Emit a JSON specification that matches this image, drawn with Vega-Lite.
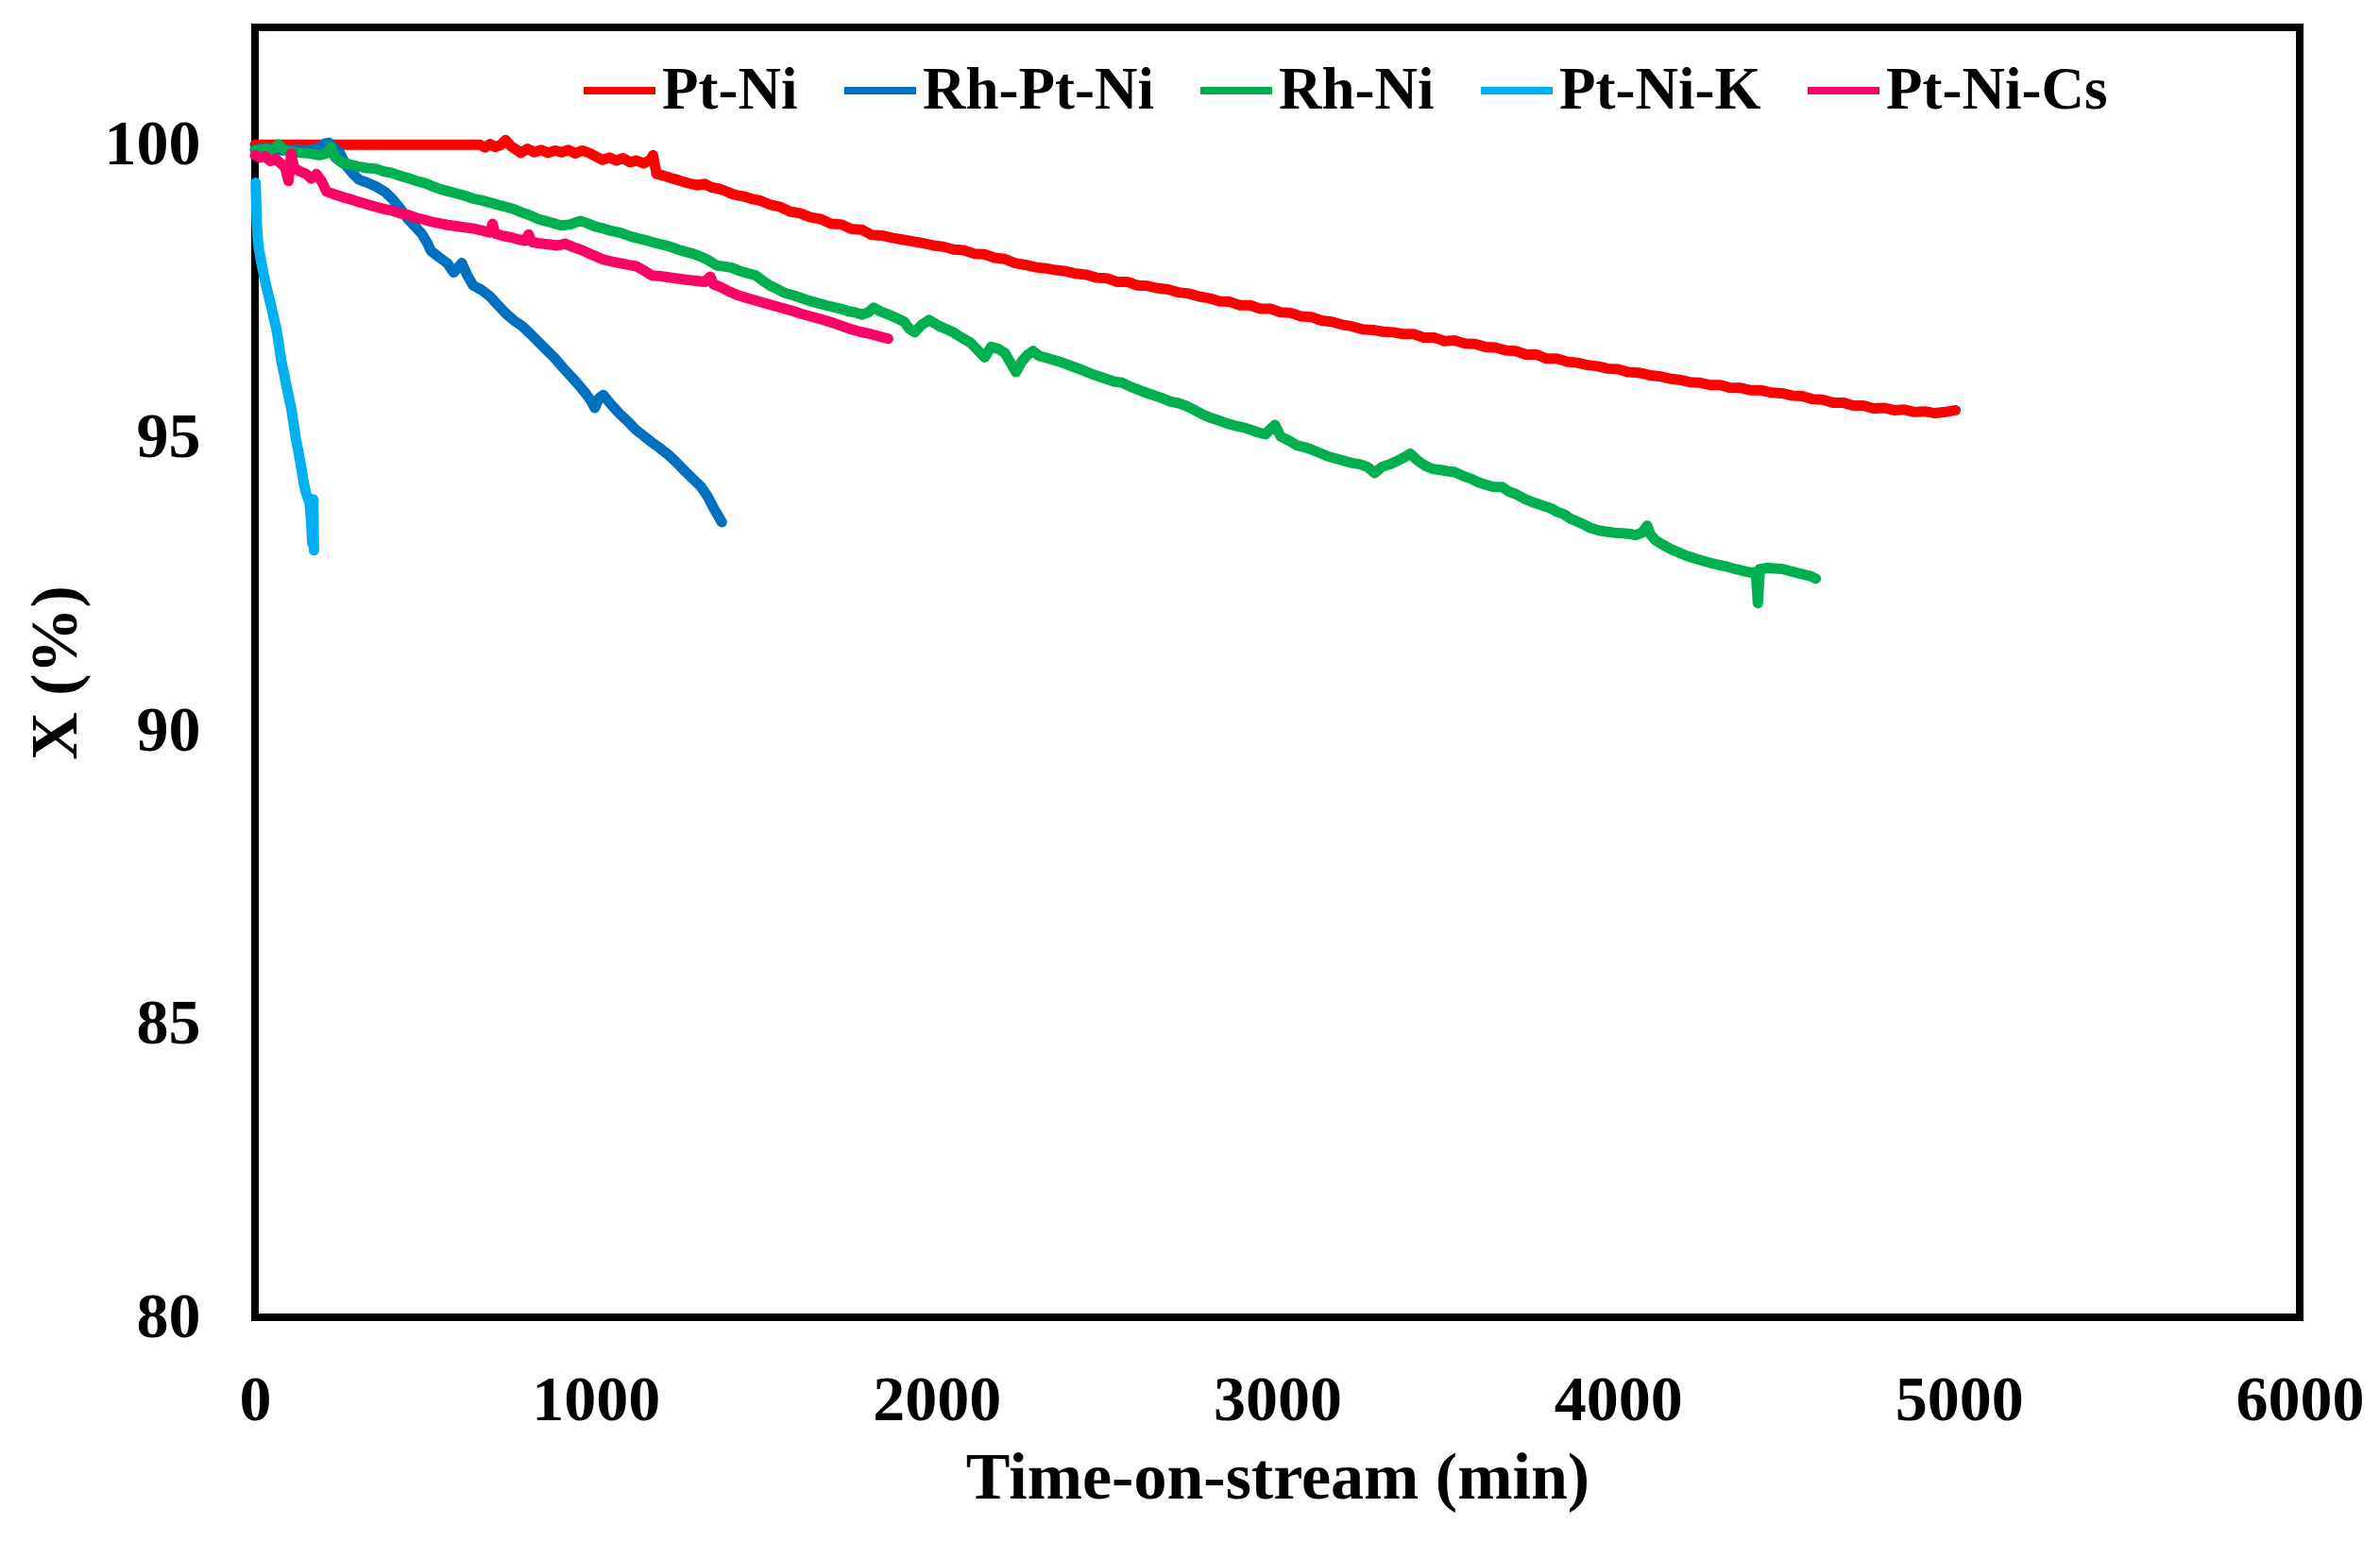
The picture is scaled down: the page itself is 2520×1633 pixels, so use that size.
{
  "$schema": "https://vega.github.io/schema/vega-lite/v6.json",
  "autosize": {"type": "none"},
  "padding": {"left": 270, "top": 29, "right": 85, "bottom": 238},
  "width": 2165,
  "height": 1366,
  "background": "white",
  "view": {"stroke": "black", "strokeWidth": 8},
  "config": {
    "font": "Liberation Serif",
    "axis": {
      "grid": false,
      "ticks": false,
      "domain": false,
      "labelFont": "Liberation Serif",
      "labelFontWeight": "bold",
      "labelFontSize": 68,
      "labelColor": "black",
      "titleFont": "Liberation Serif",
      "titleFontWeight": "bold",
      "titleFontSize": 70,
      "titleColor": "black"
    }
  },
  "datasets": {
    "conv": [
      {"cat": "Pt-Ni", "time": 0, "x": 100}, {"cat": "Pt-Ni", "time": 100, "x": 100}, {"cat": "Pt-Ni", "time": 200, "x": 100}, {"cat": "Pt-Ni", "time": 300, "x": 100}, {"cat": "Pt-Ni", "time": 400, "x": 100}, {"cat": "Pt-Ni", "time": 500, "x": 100}, {"cat": "Pt-Ni", "time": 600, "x": 100}, {"cat": "Pt-Ni", "time": 660, "x": 100},
      {"cat": "Pt-Ni", "time": 675, "x": 99.95}, {"cat": "Pt-Ni", "time": 690, "x": 100.01}, {"cat": "Pt-Ni", "time": 705, "x": 99.96}, {"cat": "Pt-Ni", "time": 720, "x": 99.99}, {"cat": "Pt-Ni", "time": 735, "x": 100.08}, {"cat": "Pt-Ni", "time": 750, "x": 99.98}, {"cat": "Pt-Ni", "time": 765, "x": 99.92}, {"cat": "Pt-Ni", "time": 780, "x": 99.86}, {"cat": "Pt-Ni", "time": 800, "x": 99.93}, {"cat": "Pt-Ni", "time": 820, "x": 99.87}, {"cat": "Pt-Ni", "time": 840, "x": 99.91}, {"cat": "Pt-Ni", "time": 860, "x": 99.86}, {"cat": "Pt-Ni", "time": 880, "x": 99.9}, {"cat": "Pt-Ni", "time": 900, "x": 99.87}, {"cat": "Pt-Ni", "time": 920, "x": 99.91}, {"cat": "Pt-Ni", "time": 940, "x": 99.85}, {"cat": "Pt-Ni", "time": 960, "x": 99.9}, {"cat": "Pt-Ni", "time": 980, "x": 99.86},
      {"cat": "Pt-Ni", "time": 1000, "x": 99.8}, {"cat": "Pt-Ni", "time": 1020, "x": 99.74}, {"cat": "Pt-Ni", "time": 1040, "x": 99.78}, {"cat": "Pt-Ni", "time": 1060, "x": 99.73}, {"cat": "Pt-Ni", "time": 1080, "x": 99.77}, {"cat": "Pt-Ni", "time": 1100, "x": 99.7}, {"cat": "Pt-Ni", "time": 1120, "x": 99.73}, {"cat": "Pt-Ni", "time": 1140, "x": 99.68}, {"cat": "Pt-Ni", "time": 1160, "x": 99.74}, {"cat": "Pt-Ni", "time": 1168, "x": 99.82}, {"cat": "Pt-Ni", "time": 1178, "x": 99.5}, {"cat": "Pt-Ni", "time": 1200, "x": 99.47}, {"cat": "Pt-Ni", "time": 1220, "x": 99.43}, {"cat": "Pt-Ni", "time": 1240, "x": 99.4}, {"cat": "Pt-Ni", "time": 1260, "x": 99.36}, {"cat": "Pt-Ni", "time": 1280, "x": 99.33}, {"cat": "Pt-Ni", "time": 1300, "x": 99.31}, {"cat": "Pt-Ni", "time": 1320, "x": 99.33}, {"cat": "Pt-Ni", "time": 1340, "x": 99.27}, {"cat": "Pt-Ni", "time": 1360, "x": 99.25}, {"cat": "Pt-Ni", "time": 1380, "x": 99.21}, {"cat": "Pt-Ni", "time": 1400, "x": 99.16}, {"cat": "Pt-Ni", "time": 1420, "x": 99.13}, {"cat": "Pt-Ni", "time": 1440, "x": 99.11}, {"cat": "Pt-Ni", "time": 1460, "x": 99.07}, {"cat": "Pt-Ni", "time": 1480, "x": 99.05},
      {"cat": "Pt-Ni", "time": 1510, "x": 98.98}, {"cat": "Pt-Ni", "time": 1540, "x": 98.94}, {"cat": "Pt-Ni", "time": 1570, "x": 98.86}, {"cat": "Pt-Ni", "time": 1600, "x": 98.83}, {"cat": "Pt-Ni", "time": 1630, "x": 98.76}, {"cat": "Pt-Ni", "time": 1660, "x": 98.73}, {"cat": "Pt-Ni", "time": 1690, "x": 98.65}, {"cat": "Pt-Ni", "time": 1720, "x": 98.64}, {"cat": "Pt-Ni", "time": 1750, "x": 98.56}, {"cat": "Pt-Ni", "time": 1780, "x": 98.55}, {"cat": "Pt-Ni", "time": 1810, "x": 98.46}, {"cat": "Pt-Ni", "time": 1840, "x": 98.45}, {"cat": "Pt-Ni", "time": 1870, "x": 98.41}, {"cat": "Pt-Ni", "time": 1900, "x": 98.38}, {"cat": "Pt-Ni", "time": 1930, "x": 98.35}, {"cat": "Pt-Ni", "time": 1960, "x": 98.32}, {"cat": "Pt-Ni", "time": 1990, "x": 98.28},
      {"cat": "Pt-Ni", "time": 2020, "x": 98.26}, {"cat": "Pt-Ni", "time": 2050, "x": 98.21}, {"cat": "Pt-Ni", "time": 2080, "x": 98.2}, {"cat": "Pt-Ni", "time": 2110, "x": 98.14}, {"cat": "Pt-Ni", "time": 2140, "x": 98.13}, {"cat": "Pt-Ni", "time": 2170, "x": 98.07}, {"cat": "Pt-Ni", "time": 2200, "x": 98.05}, {"cat": "Pt-Ni", "time": 2230, "x": 97.98}, {"cat": "Pt-Ni", "time": 2260, "x": 97.95}, {"cat": "Pt-Ni", "time": 2290, "x": 97.91}, {"cat": "Pt-Ni", "time": 2320, "x": 97.89}, {"cat": "Pt-Ni", "time": 2350, "x": 97.86}, {"cat": "Pt-Ni", "time": 2380, "x": 97.84}, {"cat": "Pt-Ni", "time": 2410, "x": 97.8}, {"cat": "Pt-Ni", "time": 2440, "x": 97.78}, {"cat": "Pt-Ni", "time": 2470, "x": 97.73}, {"cat": "Pt-Ni", "time": 2500, "x": 97.72}, {"cat": "Pt-Ni", "time": 2530, "x": 97.66}, {"cat": "Pt-Ni", "time": 2560, "x": 97.66}, {"cat": "Pt-Ni", "time": 2590, "x": 97.6}, {"cat": "Pt-Ni", "time": 2620, "x": 97.59}, {"cat": "Pt-Ni", "time": 2650, "x": 97.55}, {"cat": "Pt-Ni", "time": 2680, "x": 97.53}, {"cat": "Pt-Ni", "time": 2710, "x": 97.48}, {"cat": "Pt-Ni", "time": 2740, "x": 97.46}, {"cat": "Pt-Ni", "time": 2770, "x": 97.41}, {"cat": "Pt-Ni", "time": 2800, "x": 97.38}, {"cat": "Pt-Ni", "time": 2830, "x": 97.33}, {"cat": "Pt-Ni", "time": 2860, "x": 97.32}, {"cat": "Pt-Ni", "time": 2890, "x": 97.26}, {"cat": "Pt-Ni", "time": 2920, "x": 97.26}, {"cat": "Pt-Ni", "time": 2950, "x": 97.2}, {"cat": "Pt-Ni", "time": 2980, "x": 97.2},
      {"cat": "Pt-Ni", "time": 3010, "x": 97.14}, {"cat": "Pt-Ni", "time": 3040, "x": 97.13}, {"cat": "Pt-Ni", "time": 3070, "x": 97.07}, {"cat": "Pt-Ni", "time": 3100, "x": 97.06}, {"cat": "Pt-Ni", "time": 3130, "x": 97.0}, {"cat": "Pt-Ni", "time": 3160, "x": 96.98}, {"cat": "Pt-Ni", "time": 3190, "x": 96.93}, {"cat": "Pt-Ni", "time": 3220, "x": 96.9}, {"cat": "Pt-Ni", "time": 3250, "x": 96.85}, {"cat": "Pt-Ni", "time": 3280, "x": 96.84}, {"cat": "Pt-Ni", "time": 3310, "x": 96.81}, {"cat": "Pt-Ni", "time": 3340, "x": 96.8}, {"cat": "Pt-Ni", "time": 3370, "x": 96.77}, {"cat": "Pt-Ni", "time": 3400, "x": 96.77}, {"cat": "Pt-Ni", "time": 3430, "x": 96.71}, {"cat": "Pt-Ni", "time": 3460, "x": 96.71}, {"cat": "Pt-Ni", "time": 3490, "x": 96.65}, {"cat": "Pt-Ni", "time": 3520, "x": 96.66}, {"cat": "Pt-Ni", "time": 3550, "x": 96.61}, {"cat": "Pt-Ni", "time": 3580, "x": 96.6}, {"cat": "Pt-Ni", "time": 3610, "x": 96.55}, {"cat": "Pt-Ni", "time": 3640, "x": 96.54}, {"cat": "Pt-Ni", "time": 3670, "x": 96.49}, {"cat": "Pt-Ni", "time": 3700, "x": 96.48}, {"cat": "Pt-Ni", "time": 3730, "x": 96.42}, {"cat": "Pt-Ni", "time": 3760, "x": 96.42}, {"cat": "Pt-Ni", "time": 3790, "x": 96.35}, {"cat": "Pt-Ni", "time": 3820, "x": 96.35}, {"cat": "Pt-Ni", "time": 3850, "x": 96.3}, {"cat": "Pt-Ni", "time": 3880, "x": 96.28}, {"cat": "Pt-Ni", "time": 3910, "x": 96.24}, {"cat": "Pt-Ni", "time": 3940, "x": 96.22}, {"cat": "Pt-Ni", "time": 3970, "x": 96.18},
      {"cat": "Pt-Ni", "time": 4000, "x": 96.17}, {"cat": "Pt-Ni", "time": 4030, "x": 96.12}, {"cat": "Pt-Ni", "time": 4060, "x": 96.11}, {"cat": "Pt-Ni", "time": 4090, "x": 96.07}, {"cat": "Pt-Ni", "time": 4120, "x": 96.05}, {"cat": "Pt-Ni", "time": 4150, "x": 96.01}, {"cat": "Pt-Ni", "time": 4180, "x": 95.99}, {"cat": "Pt-Ni", "time": 4210, "x": 95.95}, {"cat": "Pt-Ni", "time": 4240, "x": 95.94}, {"cat": "Pt-Ni", "time": 4270, "x": 95.9}, {"cat": "Pt-Ni", "time": 4300, "x": 95.9}, {"cat": "Pt-Ni", "time": 4330, "x": 95.85}, {"cat": "Pt-Ni", "time": 4360, "x": 95.85}, {"cat": "Pt-Ni", "time": 4390, "x": 95.81}, {"cat": "Pt-Ni", "time": 4420, "x": 95.81}, {"cat": "Pt-Ni", "time": 4450, "x": 95.77}, {"cat": "Pt-Ni", "time": 4480, "x": 95.76}, {"cat": "Pt-Ni", "time": 4510, "x": 95.72}, {"cat": "Pt-Ni", "time": 4540, "x": 95.71}, {"cat": "Pt-Ni", "time": 4570, "x": 95.66}, {"cat": "Pt-Ni", "time": 4600, "x": 95.65}, {"cat": "Pt-Ni", "time": 4630, "x": 95.6}, {"cat": "Pt-Ni", "time": 4660, "x": 95.6}, {"cat": "Pt-Ni", "time": 4690, "x": 95.55}, {"cat": "Pt-Ni", "time": 4720, "x": 95.55}, {"cat": "Pt-Ni", "time": 4750, "x": 95.5}, {"cat": "Pt-Ni", "time": 4780, "x": 95.51}, {"cat": "Pt-Ni", "time": 4810, "x": 95.47}, {"cat": "Pt-Ni", "time": 4840, "x": 95.48}, {"cat": "Pt-Ni", "time": 4870, "x": 95.44}, {"cat": "Pt-Ni", "time": 4900, "x": 95.45}, {"cat": "Pt-Ni", "time": 4930, "x": 95.42}, {"cat": "Pt-Ni", "time": 4960, "x": 95.44}, {"cat": "Pt-Ni", "time": 4990, "x": 95.47},

      {"cat": "Rh-Pt-Ni", "time": 0, "x": 99.92}, {"cat": "Rh-Pt-Ni", "time": 40, "x": 99.94}, {"cat": "Rh-Pt-Ni", "time": 80, "x": 99.9}, {"cat": "Rh-Pt-Ni", "time": 120, "x": 99.92}, {"cat": "Rh-Pt-Ni", "time": 160, "x": 99.9}, {"cat": "Rh-Pt-Ni", "time": 190, "x": 99.95}, {"cat": "Rh-Pt-Ni", "time": 205, "x": 100.02}, {"cat": "Rh-Pt-Ni", "time": 218, "x": 100.03}, {"cat": "Rh-Pt-Ni", "time": 232, "x": 99.94}, {"cat": "Rh-Pt-Ni", "time": 249, "x": 99.86}, {"cat": "Rh-Pt-Ni", "time": 268, "x": 99.64}, {"cat": "Rh-Pt-Ni", "time": 288, "x": 99.5}, {"cat": "Rh-Pt-Ni", "time": 306, "x": 99.4}, {"cat": "Rh-Pt-Ni", "time": 330, "x": 99.35}, {"cat": "Rh-Pt-Ni", "time": 354, "x": 99.29}, {"cat": "Rh-Pt-Ni", "time": 380, "x": 99.2}, {"cat": "Rh-Pt-Ni", "time": 402, "x": 99.08}, {"cat": "Rh-Pt-Ni", "time": 425, "x": 98.92}, {"cat": "Rh-Pt-Ni", "time": 449, "x": 98.73}, {"cat": "Rh-Pt-Ni", "time": 470, "x": 98.6}, {"cat": "Rh-Pt-Ni", "time": 488, "x": 98.49}, {"cat": "Rh-Pt-Ni", "time": 505, "x": 98.33}, {"cat": "Rh-Pt-Ni", "time": 516, "x": 98.19}, {"cat": "Rh-Pt-Ni", "time": 540, "x": 98.08}, {"cat": "Rh-Pt-Ni", "time": 564, "x": 97.98}, {"cat": "Rh-Pt-Ni", "time": 583, "x": 97.82}, {"cat": "Rh-Pt-Ni", "time": 595, "x": 97.9}, {"cat": "Rh-Pt-Ni", "time": 607, "x": 97.98}, {"cat": "Rh-Pt-Ni", "time": 622, "x": 97.78}, {"cat": "Rh-Pt-Ni", "time": 640, "x": 97.6}, {"cat": "Rh-Pt-Ni", "time": 665, "x": 97.52}, {"cat": "Rh-Pt-Ni", "time": 688, "x": 97.42}, {"cat": "Rh-Pt-Ni", "time": 712, "x": 97.27}, {"cat": "Rh-Pt-Ni", "time": 736, "x": 97.12}, {"cat": "Rh-Pt-Ni", "time": 760, "x": 97.0}, {"cat": "Rh-Pt-Ni", "time": 783, "x": 96.91}, {"cat": "Rh-Pt-Ni", "time": 807, "x": 96.78}, {"cat": "Rh-Pt-Ni", "time": 831, "x": 96.64}, {"cat": "Rh-Pt-Ni", "time": 855, "x": 96.5}, {"cat": "Rh-Pt-Ni", "time": 878, "x": 96.37}, {"cat": "Rh-Pt-Ni", "time": 903, "x": 96.2}, {"cat": "Rh-Pt-Ni", "time": 927, "x": 96.05}, {"cat": "Rh-Pt-Ni", "time": 950, "x": 95.9}, {"cat": "Rh-Pt-Ni", "time": 974, "x": 95.73}, {"cat": "Rh-Pt-Ni", "time": 987, "x": 95.62}, {"cat": "Rh-Pt-Ni", "time": 997, "x": 95.51}, {"cat": "Rh-Pt-Ni", "time": 1010, "x": 95.68}, {"cat": "Rh-Pt-Ni", "time": 1022, "x": 95.73}, {"cat": "Rh-Pt-Ni", "time": 1046, "x": 95.56}, {"cat": "Rh-Pt-Ni", "time": 1070, "x": 95.41}, {"cat": "Rh-Pt-Ni", "time": 1094, "x": 95.28}, {"cat": "Rh-Pt-Ni", "time": 1117, "x": 95.14}, {"cat": "Rh-Pt-Ni", "time": 1141, "x": 95.03}, {"cat": "Rh-Pt-Ni", "time": 1165, "x": 94.92}, {"cat": "Rh-Pt-Ni", "time": 1189, "x": 94.82}, {"cat": "Rh-Pt-Ni", "time": 1213, "x": 94.71}, {"cat": "Rh-Pt-Ni", "time": 1237, "x": 94.58}, {"cat": "Rh-Pt-Ni", "time": 1260, "x": 94.44}, {"cat": "Rh-Pt-Ni", "time": 1285, "x": 94.3}, {"cat": "Rh-Pt-Ni", "time": 1308, "x": 94.17}, {"cat": "Rh-Pt-Ni", "time": 1328, "x": 94.0}, {"cat": "Rh-Pt-Ni", "time": 1346, "x": 93.8}, {"cat": "Rh-Pt-Ni", "time": 1360, "x": 93.66}, {"cat": "Rh-Pt-Ni", "time": 1370, "x": 93.56},

      {"cat": "Rh-Ni", "time": 0, "x": 99.9}, {"cat": "Rh-Ni", "time": 30, "x": 99.93}, {"cat": "Rh-Ni", "time": 50, "x": 99.9}, {"cat": "Rh-Ni", "time": 68, "x": 100.0}, {"cat": "Rh-Ni", "time": 90, "x": 99.9}, {"cat": "Rh-Ni", "time": 110, "x": 99.88}, {"cat": "Rh-Ni", "time": 134, "x": 99.86}, {"cat": "Rh-Ni", "time": 160, "x": 99.85}, {"cat": "Rh-Ni", "time": 190, "x": 99.82}, {"cat": "Rh-Ni", "time": 210, "x": 99.85}, {"cat": "Rh-Ni", "time": 222, "x": 99.96}, {"cat": "Rh-Ni", "time": 235, "x": 99.78}, {"cat": "Rh-Ni", "time": 258, "x": 99.68}, {"cat": "Rh-Ni", "time": 280, "x": 99.66}, {"cat": "Rh-Ni", "time": 300, "x": 99.63}, {"cat": "Rh-Ni", "time": 330, "x": 99.6}, {"cat": "Rh-Ni", "time": 354, "x": 99.59}, {"cat": "Rh-Ni", "time": 380, "x": 99.54}, {"cat": "Rh-Ni", "time": 400, "x": 99.52}, {"cat": "Rh-Ni", "time": 425, "x": 99.47}, {"cat": "Rh-Ni", "time": 449, "x": 99.43}, {"cat": "Rh-Ni", "time": 475, "x": 99.38}, {"cat": "Rh-Ni", "time": 500, "x": 99.34}, {"cat": "Rh-Ni", "time": 525, "x": 99.28}, {"cat": "Rh-Ni", "time": 545, "x": 99.24}, {"cat": "Rh-Ni", "time": 570, "x": 99.2}, {"cat": "Rh-Ni", "time": 590, "x": 99.17}, {"cat": "Rh-Ni", "time": 615, "x": 99.13}, {"cat": "Rh-Ni", "time": 640, "x": 99.08}, {"cat": "Rh-Ni", "time": 665, "x": 99.05}, {"cat": "Rh-Ni", "time": 690, "x": 99.01}, {"cat": "Rh-Ni", "time": 715, "x": 98.97}, {"cat": "Rh-Ni", "time": 736, "x": 98.94}, {"cat": "Rh-Ni", "time": 760, "x": 98.9}, {"cat": "Rh-Ni", "time": 780, "x": 98.85}, {"cat": "Rh-Ni", "time": 805, "x": 98.8}, {"cat": "Rh-Ni", "time": 831, "x": 98.73}, {"cat": "Rh-Ni", "time": 850, "x": 98.7}, {"cat": "Rh-Ni", "time": 870, "x": 98.67}, {"cat": "Rh-Ni", "time": 898, "x": 98.62}, {"cat": "Rh-Ni", "time": 925, "x": 98.64}, {"cat": "Rh-Ni", "time": 955, "x": 98.7}, {"cat": "Rh-Ni", "time": 975, "x": 98.66},
      {"cat": "Rh-Ni", "time": 1000, "x": 98.6}, {"cat": "Rh-Ni", "time": 1022, "x": 98.57}, {"cat": "Rh-Ni", "time": 1045, "x": 98.53}, {"cat": "Rh-Ni", "time": 1070, "x": 98.5}, {"cat": "Rh-Ni", "time": 1095, "x": 98.45}, {"cat": "Rh-Ni", "time": 1117, "x": 98.41}, {"cat": "Rh-Ni", "time": 1140, "x": 98.38}, {"cat": "Rh-Ni", "time": 1165, "x": 98.34}, {"cat": "Rh-Ni", "time": 1190, "x": 98.3}, {"cat": "Rh-Ni", "time": 1213, "x": 98.27}, {"cat": "Rh-Ni", "time": 1237, "x": 98.22}, {"cat": "Rh-Ni", "time": 1260, "x": 98.18}, {"cat": "Rh-Ni", "time": 1285, "x": 98.14}, {"cat": "Rh-Ni", "time": 1308, "x": 98.09}, {"cat": "Rh-Ni", "time": 1330, "x": 98.03}, {"cat": "Rh-Ni", "time": 1355, "x": 97.94}, {"cat": "Rh-Ni", "time": 1380, "x": 97.92}, {"cat": "Rh-Ni", "time": 1400, "x": 97.9}, {"cat": "Rh-Ni", "time": 1425, "x": 97.84}, {"cat": "Rh-Ni", "time": 1450, "x": 97.8}, {"cat": "Rh-Ni", "time": 1469, "x": 97.77}, {"cat": "Rh-Ni", "time": 1490, "x": 97.68}, {"cat": "Rh-Ni", "time": 1510, "x": 97.6}, {"cat": "Rh-Ni", "time": 1535, "x": 97.53}, {"cat": "Rh-Ni", "time": 1555, "x": 97.47}, {"cat": "Rh-Ni", "time": 1580, "x": 97.43}, {"cat": "Rh-Ni", "time": 1600, "x": 97.39}, {"cat": "Rh-Ni", "time": 1625, "x": 97.34}, {"cat": "Rh-Ni", "time": 1650, "x": 97.3}, {"cat": "Rh-Ni", "time": 1675, "x": 97.26}, {"cat": "Rh-Ni", "time": 1696, "x": 97.23}, {"cat": "Rh-Ni", "time": 1720, "x": 97.2}, {"cat": "Rh-Ni", "time": 1740, "x": 97.16}, {"cat": "Rh-Ni", "time": 1760, "x": 97.14}, {"cat": "Rh-Ni", "time": 1781, "x": 97.1}, {"cat": "Rh-Ni", "time": 1800, "x": 97.14}, {"cat": "Rh-Ni", "time": 1815, "x": 97.22}, {"cat": "Rh-Ni", "time": 1837, "x": 97.15}, {"cat": "Rh-Ni", "time": 1860, "x": 97.1}, {"cat": "Rh-Ni", "time": 1880, "x": 97.05}, {"cat": "Rh-Ni", "time": 1905, "x": 96.98}, {"cat": "Rh-Ni", "time": 1920, "x": 96.86}, {"cat": "Rh-Ni", "time": 1936, "x": 96.8}, {"cat": "Rh-Ni", "time": 1955, "x": 96.92}, {"cat": "Rh-Ni", "time": 1978, "x": 97.01}, {"cat": "Rh-Ni", "time": 1995, "x": 96.95},
      {"cat": "Rh-Ni", "time": 2010, "x": 96.9}, {"cat": "Rh-Ni", "time": 2030, "x": 96.85}, {"cat": "Rh-Ni", "time": 2049, "x": 96.8}, {"cat": "Rh-Ni", "time": 2070, "x": 96.72}, {"cat": "Rh-Ni", "time": 2100, "x": 96.62}, {"cat": "Rh-Ni", "time": 2120, "x": 96.5}, {"cat": "Rh-Ni", "time": 2141, "x": 96.37}, {"cat": "Rh-Ni", "time": 2160, "x": 96.55}, {"cat": "Rh-Ni", "time": 2180, "x": 96.52}, {"cat": "Rh-Ni", "time": 2200, "x": 96.45}, {"cat": "Rh-Ni", "time": 2215, "x": 96.3}, {"cat": "Rh-Ni", "time": 2233, "x": 96.12}, {"cat": "Rh-Ni", "time": 2250, "x": 96.3}, {"cat": "Rh-Ni", "time": 2268, "x": 96.42}, {"cat": "Rh-Ni", "time": 2283, "x": 96.48}, {"cat": "Rh-Ni", "time": 2300, "x": 96.4}, {"cat": "Rh-Ni", "time": 2330, "x": 96.35}, {"cat": "Rh-Ni", "time": 2360, "x": 96.3}, {"cat": "Rh-Ni", "time": 2402, "x": 96.21}, {"cat": "Rh-Ni", "time": 2430, "x": 96.15}, {"cat": "Rh-Ni", "time": 2450, "x": 96.1}, {"cat": "Rh-Ni", "time": 2475, "x": 96.05}, {"cat": "Rh-Ni", "time": 2500, "x": 96.0}, {"cat": "Rh-Ni", "time": 2520, "x": 95.96}, {"cat": "Rh-Ni", "time": 2544, "x": 95.94}, {"cat": "Rh-Ni", "time": 2570, "x": 95.87}, {"cat": "Rh-Ni", "time": 2600, "x": 95.8}, {"cat": "Rh-Ni", "time": 2620, "x": 95.76}, {"cat": "Rh-Ni", "time": 2640, "x": 95.72}, {"cat": "Rh-Ni", "time": 2660, "x": 95.68}, {"cat": "Rh-Ni", "time": 2685, "x": 95.62}, {"cat": "Rh-Ni", "time": 2710, "x": 95.59}, {"cat": "Rh-Ni", "time": 2730, "x": 95.55}, {"cat": "Rh-Ni", "time": 2755, "x": 95.48}, {"cat": "Rh-Ni", "time": 2780, "x": 95.4}, {"cat": "Rh-Ni", "time": 2800, "x": 95.35}, {"cat": "Rh-Ni", "time": 2826, "x": 95.3}, {"cat": "Rh-Ni", "time": 2850, "x": 95.25}, {"cat": "Rh-Ni", "time": 2880, "x": 95.2}, {"cat": "Rh-Ni", "time": 2905, "x": 95.17}, {"cat": "Rh-Ni", "time": 2930, "x": 95.12}, {"cat": "Rh-Ni", "time": 2950, "x": 95.08}, {"cat": "Rh-Ni", "time": 2965, "x": 95.06}, {"cat": "Rh-Ni", "time": 2980, "x": 95.15}, {"cat": "Rh-Ni", "time": 2993, "x": 95.22},
      {"cat": "Rh-Ni", "time": 3010, "x": 95.02}, {"cat": "Rh-Ni", "time": 3035, "x": 94.95}, {"cat": "Rh-Ni", "time": 3057, "x": 94.87}, {"cat": "Rh-Ni", "time": 3080, "x": 94.84}, {"cat": "Rh-Ni", "time": 3100, "x": 94.8}, {"cat": "Rh-Ni", "time": 3125, "x": 94.74}, {"cat": "Rh-Ni", "time": 3150, "x": 94.68}, {"cat": "Rh-Ni", "time": 3175, "x": 94.64}, {"cat": "Rh-Ni", "time": 3200, "x": 94.6}, {"cat": "Rh-Ni", "time": 3220, "x": 94.57}, {"cat": "Rh-Ni", "time": 3242, "x": 94.55}, {"cat": "Rh-Ni", "time": 3265, "x": 94.5}, {"cat": "Rh-Ni", "time": 3285, "x": 94.4}, {"cat": "Rh-Ni", "time": 3306, "x": 94.5}, {"cat": "Rh-Ni", "time": 3330, "x": 94.55}, {"cat": "Rh-Ni", "time": 3350, "x": 94.6}, {"cat": "Rh-Ni", "time": 3370, "x": 94.66}, {"cat": "Rh-Ni", "time": 3390, "x": 94.73}, {"cat": "Rh-Ni", "time": 3410, "x": 94.62}, {"cat": "Rh-Ni", "time": 3435, "x": 94.52}, {"cat": "Rh-Ni", "time": 3455, "x": 94.47}, {"cat": "Rh-Ni", "time": 3480, "x": 94.45}, {"cat": "Rh-Ni", "time": 3500, "x": 94.43}, {"cat": "Rh-Ni", "time": 3519, "x": 94.42}, {"cat": "Rh-Ni", "time": 3545, "x": 94.35}, {"cat": "Rh-Ni", "time": 3570, "x": 94.3}, {"cat": "Rh-Ni", "time": 3590, "x": 94.24}, {"cat": "Rh-Ni", "time": 3611, "x": 94.2}, {"cat": "Rh-Ni", "time": 3635, "x": 94.16}, {"cat": "Rh-Ni", "time": 3660, "x": 94.16}, {"cat": "Rh-Ni", "time": 3680, "x": 94.08}, {"cat": "Rh-Ni", "time": 3700, "x": 94.04}, {"cat": "Rh-Ni", "time": 3725, "x": 93.96}, {"cat": "Rh-Ni", "time": 3750, "x": 93.9}, {"cat": "Rh-Ni", "time": 3775, "x": 93.85}, {"cat": "Rh-Ni", "time": 3802, "x": 93.8}, {"cat": "Rh-Ni", "time": 3820, "x": 93.74}, {"cat": "Rh-Ni", "time": 3840, "x": 93.7}, {"cat": "Rh-Ni", "time": 3860, "x": 93.62}, {"cat": "Rh-Ni", "time": 3873, "x": 93.59}, {"cat": "Rh-Ni", "time": 3900, "x": 93.52}, {"cat": "Rh-Ni", "time": 3920, "x": 93.46}, {"cat": "Rh-Ni", "time": 3943, "x": 93.42}, {"cat": "Rh-Ni", "time": 3965, "x": 93.4}, {"cat": "Rh-Ni", "time": 3990, "x": 93.38},
      {"cat": "Rh-Ni", "time": 4014, "x": 93.37}, {"cat": "Rh-Ni", "time": 4035, "x": 93.36}, {"cat": "Rh-Ni", "time": 4050, "x": 93.34}, {"cat": "Rh-Ni", "time": 4070, "x": 93.38}, {"cat": "Rh-Ni", "time": 4085, "x": 93.5}, {"cat": "Rh-Ni", "time": 4095, "x": 93.35}, {"cat": "Rh-Ni", "time": 4110, "x": 93.25}, {"cat": "Rh-Ni", "time": 4130, "x": 93.18}, {"cat": "Rh-Ni", "time": 4155, "x": 93.1}, {"cat": "Rh-Ni", "time": 4180, "x": 93.04}, {"cat": "Rh-Ni", "time": 4200, "x": 92.99}, {"cat": "Rh-Ni", "time": 4226, "x": 92.94}, {"cat": "Rh-Ni", "time": 4250, "x": 92.9}, {"cat": "Rh-Ni", "time": 4275, "x": 92.86}, {"cat": "Rh-Ni", "time": 4297, "x": 92.83}, {"cat": "Rh-Ni", "time": 4320, "x": 92.8}, {"cat": "Rh-Ni", "time": 4345, "x": 92.76}, {"cat": "Rh-Ni", "time": 4367, "x": 92.73}, {"cat": "Rh-Ni", "time": 4390, "x": 92.7}, {"cat": "Rh-Ni", "time": 4404, "x": 92.71}, {"cat": "Rh-Ni", "time": 4410, "x": 92.18}, {"cat": "Rh-Ni", "time": 4416, "x": 92.76}, {"cat": "Rh-Ni", "time": 4438, "x": 92.78}, {"cat": "Rh-Ni", "time": 4460, "x": 92.77}, {"cat": "Rh-Ni", "time": 4485, "x": 92.76}, {"cat": "Rh-Ni", "time": 4509, "x": 92.72}, {"cat": "Rh-Ni", "time": 4530, "x": 92.69}, {"cat": "Rh-Ni", "time": 4550, "x": 92.66}, {"cat": "Rh-Ni", "time": 4565, "x": 92.64}, {"cat": "Rh-Ni", "time": 4580, "x": 92.6},

      {"cat": "Pt-Ni-K", "time": 2, "x": 99.35}, {"cat": "Pt-Ni-K", "time": 5, "x": 98.7}, {"cat": "Pt-Ni-K", "time": 8, "x": 98.4}, {"cat": "Pt-Ni-K", "time": 12, "x": 98.2}, {"cat": "Pt-Ni-K", "time": 20, "x": 97.95}, {"cat": "Pt-Ni-K", "time": 30, "x": 97.66}, {"cat": "Pt-Ni-K", "time": 40, "x": 97.42}, {"cat": "Pt-Ni-K", "time": 48, "x": 97.23}, {"cat": "Pt-Ni-K", "time": 55, "x": 97.05}, {"cat": "Pt-Ni-K", "time": 63, "x": 96.85}, {"cat": "Pt-Ni-K", "time": 70, "x": 96.6}, {"cat": "Pt-Ni-K", "time": 77, "x": 96.32}, {"cat": "Pt-Ni-K", "time": 85, "x": 96.1}, {"cat": "Pt-Ni-K", "time": 92, "x": 95.89}, {"cat": "Pt-Ni-K", "time": 99, "x": 95.7}, {"cat": "Pt-Ni-K", "time": 106, "x": 95.51}, {"cat": "Pt-Ni-K", "time": 113, "x": 95.25}, {"cat": "Pt-Ni-K", "time": 120, "x": 94.98}, {"cat": "Pt-Ni-K", "time": 127, "x": 94.78}, {"cat": "Pt-Ni-K", "time": 134, "x": 94.55}, {"cat": "Pt-Ni-K", "time": 141, "x": 94.3}, {"cat": "Pt-Ni-K", "time": 149, "x": 94.07}, {"cat": "Pt-Ni-K", "time": 160, "x": 93.9}, {"cat": "Pt-Ni-K", "time": 165, "x": 93.55}, {"cat": "Pt-Ni-K", "time": 168, "x": 93.2}, {"cat": "Pt-Ni-K", "time": 171, "x": 93.95}, {"cat": "Pt-Ni-K", "time": 173, "x": 93.08},

      {"cat": "Pt-Ni-Cs", "time": 0, "x": 99.82}, {"cat": "Pt-Ni-Cs", "time": 15, "x": 99.78}, {"cat": "Pt-Ni-Cs", "time": 30, "x": 99.8}, {"cat": "Pt-Ni-Cs", "time": 45, "x": 99.72}, {"cat": "Pt-Ni-Cs", "time": 60, "x": 99.76}, {"cat": "Pt-Ni-Cs", "time": 75, "x": 99.68}, {"cat": "Pt-Ni-Cs", "time": 88, "x": 99.62}, {"cat": "Pt-Ni-Cs", "time": 98, "x": 99.38}, {"cat": "Pt-Ni-Cs", "time": 106, "x": 99.85}, {"cat": "Pt-Ni-Cs", "time": 115, "x": 99.6}, {"cat": "Pt-Ni-Cs", "time": 130, "x": 99.55}, {"cat": "Pt-Ni-Cs", "time": 150, "x": 99.5}, {"cat": "Pt-Ni-Cs", "time": 165, "x": 99.42}, {"cat": "Pt-Ni-Cs", "time": 180, "x": 99.5}, {"cat": "Pt-Ni-Cs", "time": 195, "x": 99.38}, {"cat": "Pt-Ni-Cs", "time": 210, "x": 99.2}, {"cat": "Pt-Ni-Cs", "time": 235, "x": 99.15}, {"cat": "Pt-Ni-Cs", "time": 260, "x": 99.1}, {"cat": "Pt-Ni-Cs", "time": 280, "x": 99.07}, {"cat": "Pt-Ni-Cs", "time": 300, "x": 99.03}, {"cat": "Pt-Ni-Cs", "time": 330, "x": 98.98}, {"cat": "Pt-Ni-Cs", "time": 354, "x": 98.94}, {"cat": "Pt-Ni-Cs", "time": 380, "x": 98.9}, {"cat": "Pt-Ni-Cs", "time": 400, "x": 98.88}, {"cat": "Pt-Ni-Cs", "time": 425, "x": 98.83}, {"cat": "Pt-Ni-Cs", "time": 450, "x": 98.8}, {"cat": "Pt-Ni-Cs", "time": 470, "x": 98.76}, {"cat": "Pt-Ni-Cs", "time": 488, "x": 98.73}, {"cat": "Pt-Ni-Cs", "time": 515, "x": 98.69}, {"cat": "Pt-Ni-Cs", "time": 540, "x": 98.66}, {"cat": "Pt-Ni-Cs", "time": 565, "x": 98.63}, {"cat": "Pt-Ni-Cs", "time": 590, "x": 98.61}, {"cat": "Pt-Ni-Cs", "time": 615, "x": 98.59}, {"cat": "Pt-Ni-Cs", "time": 640, "x": 98.57}, {"cat": "Pt-Ni-Cs", "time": 670, "x": 98.53}, {"cat": "Pt-Ni-Cs", "time": 690, "x": 98.5}, {"cat": "Pt-Ni-Cs", "time": 697, "x": 98.65}, {"cat": "Pt-Ni-Cs", "time": 705, "x": 98.48}, {"cat": "Pt-Ni-Cs", "time": 730, "x": 98.44}, {"cat": "Pt-Ni-Cs", "time": 750, "x": 98.42}, {"cat": "Pt-Ni-Cs", "time": 775, "x": 98.38}, {"cat": "Pt-Ni-Cs", "time": 793, "x": 98.36}, {"cat": "Pt-Ni-Cs", "time": 803, "x": 98.47}, {"cat": "Pt-Ni-Cs", "time": 812, "x": 98.34}, {"cat": "Pt-Ni-Cs", "time": 830, "x": 98.32}, {"cat": "Pt-Ni-Cs", "time": 860, "x": 98.3}, {"cat": "Pt-Ni-Cs", "time": 888, "x": 98.28}, {"cat": "Pt-Ni-Cs", "time": 910, "x": 98.31}, {"cat": "Pt-Ni-Cs", "time": 935, "x": 98.25}, {"cat": "Pt-Ni-Cs", "time": 960, "x": 98.2}, {"cat": "Pt-Ni-Cs", "time": 990, "x": 98.12},
      {"cat": "Pt-Ni-Cs", "time": 1022, "x": 98.04}, {"cat": "Pt-Ni-Cs", "time": 1045, "x": 98.01}, {"cat": "Pt-Ni-Cs", "time": 1070, "x": 97.98}, {"cat": "Pt-Ni-Cs", "time": 1095, "x": 97.95}, {"cat": "Pt-Ni-Cs", "time": 1117, "x": 97.93}, {"cat": "Pt-Ni-Cs", "time": 1140, "x": 97.86}, {"cat": "Pt-Ni-Cs", "time": 1164, "x": 97.77}, {"cat": "Pt-Ni-Cs", "time": 1185, "x": 97.76}, {"cat": "Pt-Ni-Cs", "time": 1210, "x": 97.74}, {"cat": "Pt-Ni-Cs", "time": 1235, "x": 97.72}, {"cat": "Pt-Ni-Cs", "time": 1260, "x": 97.7}, {"cat": "Pt-Ni-Cs", "time": 1290, "x": 97.68}, {"cat": "Pt-Ni-Cs", "time": 1320, "x": 97.66}, {"cat": "Pt-Ni-Cs", "time": 1336, "x": 97.75}, {"cat": "Pt-Ni-Cs", "time": 1345, "x": 97.62}, {"cat": "Pt-Ni-Cs", "time": 1370, "x": 97.56}, {"cat": "Pt-Ni-Cs", "time": 1390, "x": 97.5}, {"cat": "Pt-Ni-Cs", "time": 1413, "x": 97.44}, {"cat": "Pt-Ni-Cs", "time": 1440, "x": 97.39}, {"cat": "Pt-Ni-Cs", "time": 1469, "x": 97.34}, {"cat": "Pt-Ni-Cs", "time": 1500, "x": 97.29}, {"cat": "Pt-Ni-Cs", "time": 1530, "x": 97.24}, {"cat": "Pt-Ni-Cs", "time": 1555, "x": 97.2}, {"cat": "Pt-Ni-Cs", "time": 1580, "x": 97.16}, {"cat": "Pt-Ni-Cs", "time": 1600, "x": 97.12}, {"cat": "Pt-Ni-Cs", "time": 1625, "x": 97.08}, {"cat": "Pt-Ni-Cs", "time": 1650, "x": 97.04}, {"cat": "Pt-Ni-Cs", "time": 1675, "x": 97.0}, {"cat": "Pt-Ni-Cs", "time": 1696, "x": 96.96}, {"cat": "Pt-Ni-Cs", "time": 1720, "x": 96.91}, {"cat": "Pt-Ni-Cs", "time": 1750, "x": 96.85}, {"cat": "Pt-Ni-Cs", "time": 1775, "x": 96.81}, {"cat": "Pt-Ni-Cs", "time": 1800, "x": 96.78}, {"cat": "Pt-Ni-Cs", "time": 1820, "x": 96.75}, {"cat": "Pt-Ni-Cs", "time": 1837, "x": 96.72}, {"cat": "Pt-Ni-Cs", "time": 1858, "x": 96.69}
    ]
  },
  "data": {"name": "conv"},
  "mark": {"type": "line", "strokeWidth": 11, "strokeCap": "round", "strokeJoin": "round"},
  "encoding": {
    "x": {
      "field": "time",
      "type": "quantitative",
      "scale": {"domain": [0, 6000], "nice": false},
      "axis": {
        "values": [0, 1000, 2000, 3000, 4000, 5000, 6000],
        "format": "d",
        "title": "Time-on-stream (min)",
        "labelPadding": 54,
        "titlePadding": 14,
        "labelFlush": false,
        "labelOverlap": false
      }
    },
    "y": {
      "field": "x",
      "type": "quantitative",
      "scale": {"domain": [80, 102], "nice": false, "zero": false},
      "axis": {
        "values": [80, 85, 90, 95, 100],
        "title": "X (%)",
        "labelPadding": 58,
        "titlePadding": 15
      }
    },
    "color": {
      "field": "cat",
      "type": "nominal",
      "sort": null,
      "scale": {
        "domain": ["Pt-Ni", "Rh-Pt-Ni", "Rh-Ni", "Pt-Ni-K", "Pt-Ni-Cs"],
        "range": ["#FF0000", "#0070C0", "#00B050", "#00B0F0", "#FF0066"]
      },
      "legend": {
        "title": null,
        "orient": "none",
        "direction": "horizontal",
        "legendX": 344,
        "legendY": 25,
        "padding": 0,
        "symbolType": "stroke",
        "symbolSize": 5776,
        "symbolStrokeWidth": 8,
        "labelFont": "Liberation Serif",
        "labelFontWeight": "bold",
        "labelFontSize": 63,
        "labelColor": "black",
        "labelOffset": 3,
        "labelLimit": 0,
        "columnPadding": 33
      }
    }
  }
}
